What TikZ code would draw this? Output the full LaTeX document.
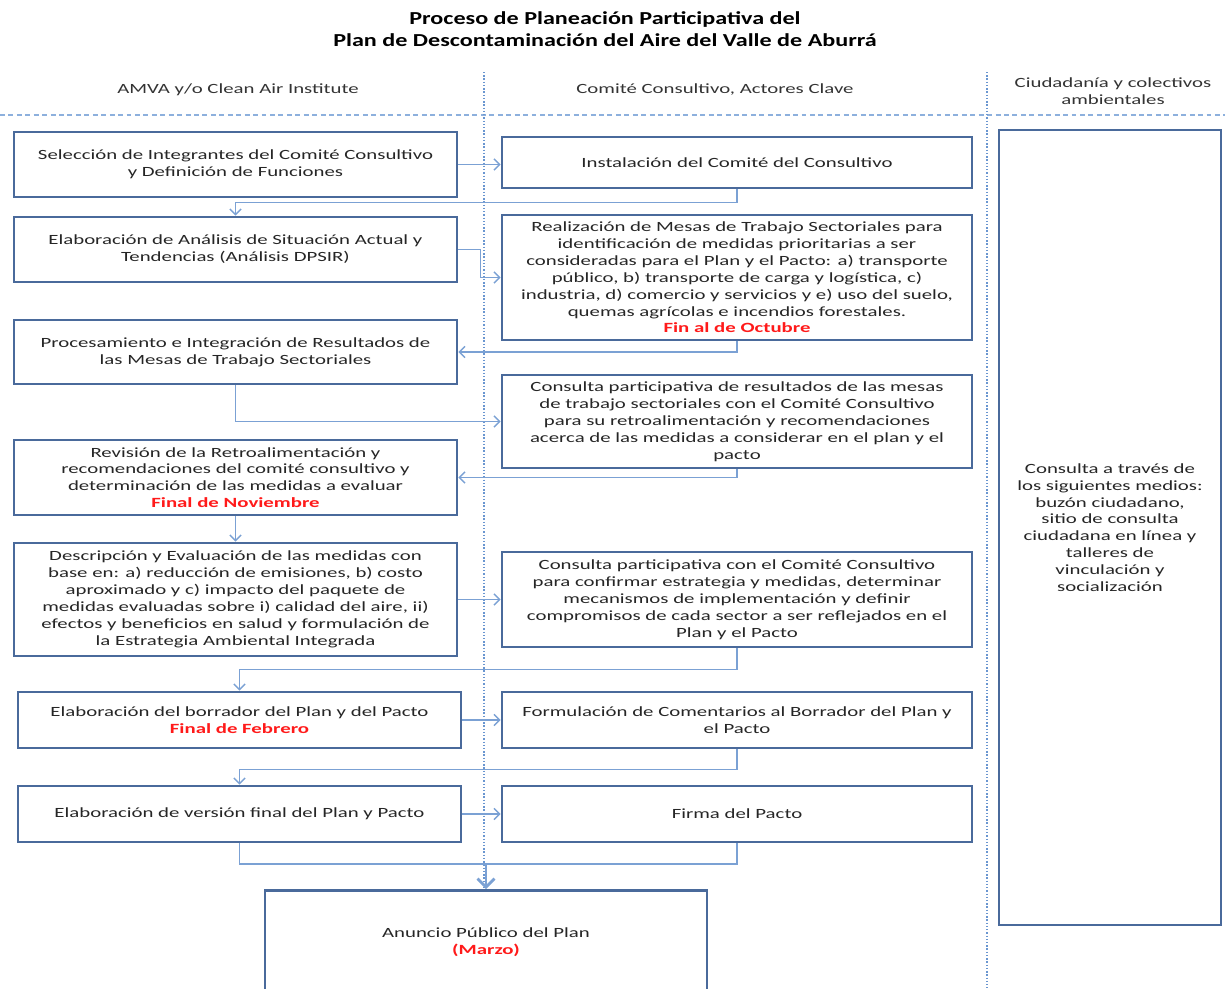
\documentclass[tikz,border=0pt]{standalone}
\usepackage{fontspec}
\setmainfont{Carlito}[FakeStretch=1.48]
\newfontfamily\titlefont{Carlito}[FakeStretch=1.32]
\usetikzlibrary{arrows.meta}
\definecolor{boxblue}{HTML}{4A6A9B}
\definecolor{linkblue}{HTML}{7BA1D4}
\definecolor{laneblue}{HTML}{6A96D0}
\definecolor{sepblue}{HTML}{8DB0DD}
\definecolor{fechared}{HTML}{FF1A1A}
\newcommand{\pxu}{0.025cm}
\newcommand{\fecha}[1]{{\color{fechared}\bfseries #1}}

\begin{document}
\begin{tikzpicture}[x=0.025cm,y=-0.025cm,
  stepbox/.style={draw=boxblue,fill=white,line width=2.1pt,align=center,inner sep=2pt,
    text=black!85,font=\fontsize{10pt}{12pt}\selectfont},
  lbox/.style={stepbox,minimum width=443*\pxu},
  rbox/.style={stepbox,minimum width=470*\pxu},
  lane/.style={text=black!80,align=center,font=\fontsize{10pt}{12pt}\selectfont},
  conn/.style={draw=linkblue,line width=1pt,-{Straight Barb[length=4pt,width=8pt]}},
  mergeline/.style={draw=linkblue,line width=1pt}]

\useasboundingbox (0,0) rectangle (1225,988);

%Title
\node[font=\titlefont\bfseries\fontsize{13pt}{15.6pt}\selectfont,align=center] (title) at (605,29)
  {Proceso de Planeación Participativa del\\Plan de Descontaminación del Aire del Valle de Aburrá};

%Lanes
\node[lane] (hdA) at (238,90) {AMVA y/o Clean  Air Institute};
\node[lane] (hdB) at (715,90) {Comité Consultivo, Actores Clave};
\node[lane] (hdC) at (1113,91) {Ciudadanía y colectivos\\ambientales};
\draw[sepblue,line width=1pt,dash pattern=on 3.5pt off 2.5pt] (0,115) -- (1225,115);
\draw[laneblue,line width=1.2pt,dash pattern=on 1pt off 1.3pt] (484,72) -- (484,988);
\draw[laneblue,line width=1.2pt,dash pattern=on 1pt off 1.3pt] (987,72) -- (987,988);

%Left column boxes
\node[lbox,minimum height=65*\pxu] (sel) at (235.5,164.5)
  {Selección  de Integrantes del Comité Consultivo\\y Definición de Funciones};
\node[lbox,minimum height=65*\pxu] (das) at (235.5,249.5)
  {Elaboración de Análisis de Situación Actual y\\Tendencias (Análisis DPSIR)};
\node[lbox,minimum height=64*\pxu] (proc) at (235.5,352)
  {Procesamiento e Integración de Resultados de\\las Mesas de Trabajo Sectoriales};
\node[lbox,minimum height=75*\pxu] (rev) at (235.5,477.5)
  {Revisión de la Retroalimentación  y\\recomendaciones del comité consultivo y\\determinación  de las medidas a evaluar\\\fecha{Final de Noviembre}};
\node[lbox,minimum height=113*\pxu] (desc) at (235.5,599.5)
  {Descripción y Evaluación de las medidas con\\base en: a) reducción de emisiones, b) costo\\aproximado y  c) impacto del paquete de\\medidas evaluadas sobre i) calidad del aire, ii)\\efectos y beneficios en salud  y formulación de\\la Estrategia Ambiental Integrada};
\node[lbox,minimum height=56*\pxu] (borr) at (239.5,720)
  {Elaboración del borrador del  Plan y del Pacto\\\fecha{Final de Febrero}};
\node[lbox,minimum height=56*\pxu] (vfin) at (239.5,814)
  {Elaboración de versión final del Plan y Pacto};
\node[stepbox,minimum width=442*\pxu,minimum height=104*\pxu,anchor=north] (anun) at (486,889)
  {Anuncio Público del Plan\\\fecha{(Marzo)}};

%Middle column boxes
\node[rbox,minimum height=51*\pxu] (inst) at (737,162.5)
  {Instalación del  Comité del Consultivo};
\node[rbox,minimum height=125*\pxu] (mesas) at (737,277.5)
  {Realización  de Mesas de Trabajo Sectoriales  para\\identificación  de medidas prioritarias a ser\\consideradas para el Plan y el Pacto: a) transporte\\público, b) transporte de carga y logística, c)\\industria, d) comercio y servicios y e)  uso del suelo,\\quemas agrícolas e incendios forestales.\\\fecha{Fin al de Octubre}};
\node[rbox,minimum height=93*\pxu] (cons1) at (737,421.5)
  {Consulta participativa  de resultados de las mesas\\de trabajo sectoriales con el Comité Consultivo\\para su retroalimentación  y recomendaciones\\acerca de las medidas a considerar en el plan y el\\pacto};
\node[rbox,minimum height=95*\pxu] (cons2) at (737,599.5)
  {Consulta participativa  con el Comité Consultivo\\para confirmar  estrategia y medidas, determinar\\mecanismos de implementación  y definir\\compromisos de cada sector a ser reflejados en el\\Plan y el Pacto};
\node[rbox,minimum height=56*\pxu] (form) at (737,720)
  {Formulación de Comentarios al Borrador del Plan y\\el Pacto};
\node[rbox,minimum height=56*\pxu] (firma) at (737,814)
  {Firma del Pacto};

%Right column box
\node[stepbox,minimum width=222*\pxu,minimum height=795*\pxu] (ciud) at (1110,527.5)
  {Consulta a través de\\los siguientes medios:\\buzón ciudadano,\\sitio de consulta\\ciudadana en línea y\\talleres  de\\vinculación  y\\socialización};

%Connectors
\coordinate (merge) at (486,864);
\draw[conn] (sel.east) -- (sel.east -| inst.west);
\draw[conn] (inst.south) -- ++(0,13) -| (das.north);
\draw[conn] (das.east) -- ++(22,0) |- (mesas.west);
\draw[conn] (mesas.south) |- (proc.east);
\draw[conn] (proc.south) |- (cons1.west);
\draw[conn] (cons1.south) |- (rev.east);
\draw[conn] (rev.south) -- (desc.north);
\draw[conn] (desc.east) -- (cons2.west);
\draw[conn] (cons2.south) -- ++(0,21) -| (borr.north);
\draw[conn] (borr.east) -- (form.west);
\draw[conn] (form.south) -- ++(0,20) -| (vfin.north);
\draw[conn] (vfin.east) -- (firma.west);
\draw[mergeline] (vfin.south) |- (merge);
\draw[mergeline] (firma.south) |- (merge);
\draw[conn,line width=2pt,-{Straight Barb[length=6pt,width=12pt]}] (merge) -- (anun.north);
\end{tikzpicture}
\end{document}
